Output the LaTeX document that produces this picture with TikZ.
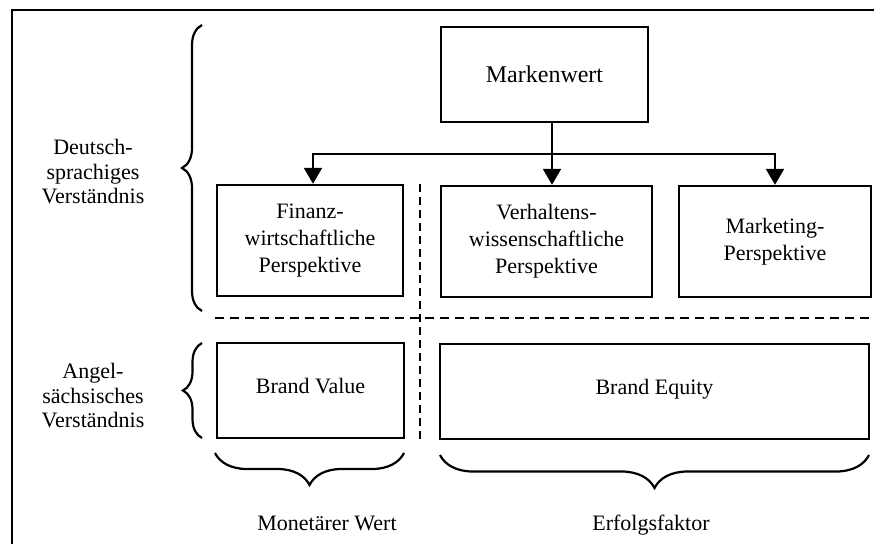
\documentclass[tikz,border=0pt]{standalone}
\usepackage{fontspec}
\setmainfont{Liberation Serif}
\usetikzlibrary{arrows.meta,decorations.pathreplacing}
\begin{document}
\begin{tikzpicture}[x=1pt,y=-1pt,
  box/.style={draw,line width=2.4pt,align=center,inner sep=0pt,
    font=\fontsize{22}{27}\selectfont},
  low/.style={text height=15pt,text depth=10pt},
  lbl/.style={align=center,inner sep=0pt,font=\fontsize{22}{24.5}\selectfont},
  arr/.style={line width=2.2pt,-{Triangle[width=18pt,length=16pt]}},
  sep/.style={line width=2.4pt,dash pattern=on 9pt off 6pt},
  vsep/.style={line width=2.4pt,dash pattern=on 8pt off 5pt},
  brc/.style={line width=2.2pt,decorate},
  frame/.style={line width=2.6pt}]
\useasboundingbox (0,0) rectangle (874,544);

% outer frame (left and top edges)
\coordinate (ftl) at (12,10);
\coordinate (fbl) at (12,544);
\coordinate (ftr) at (874,10);
\draw[frame] (fbl) -- (ftl) -- (ftr);

% boxes
\node[box,minimum width=207pt,minimum height=95pt,font=\fontsize{24}{28}\selectfont] (mw) at (544.5,74.5) {Markenwert};
\node[box,minimum width=186pt,minimum height=111pt] (fin) at (310,240.5) {Finanz-\\wirtschaftliche\\Perspektive};
\node[box,minimum width=211pt,minimum height=111pt] (ver) at (546.5,241.5) {Verhaltens-\\wissenschaftliche\\Perspektive};
\node[box,minimum width=192pt,minimum height=111pt] (mkt) at (775,241.5) {Marketing-\\Perspektive};
\node[box,low,minimum width=187pt,minimum height=95pt] (bv) at (310.5,390.5) {Brand Value};
\node[box,low,minimum width=429pt,minimum height=95pt] (be) at (654.5,391.5) {Brand Equity};

% connectors from Markenwert
\coordinate (j) at (552,154);
\coordinate (jl) at (313,154);
\coordinate (jr) at (775,154);
\draw[arr] (mw.south -| j) -- (ver.north -| j);
\draw[arr] (j) -- (jl) -- (fin.north -| jl);
\draw[arr] (j) -- (jr) -- (mkt.north -| jr);

% dashed separators
\coordinate (hs1) at (215,318);
\coordinate (hs2) at (872,318);
\coordinate (vs1) at (420,184);
\coordinate (vs2) at (420,440);
\draw[sep] (hs1) -- (hs2);
\draw[vsep] (vs1) -- (vs2);

% braces on the left
\coordinate (b1a) at (202,311);
\coordinate (b1b) at (202,25);
\coordinate (b2a) at (202,438);
\coordinate (b2b) at (202,343);
\draw[brc,decoration={brace,amplitude=20pt}] (b1a) -- (b1b);
\draw[brc,decoration={brace,amplitude=19pt}] (b2a) -- (b2b);

% braces below
\coordinate (b3a) at (404,453);
\coordinate (b3b) at (215,453);
\coordinate (b4a) at (869,455);
\coordinate (b4b) at (440,455);
\draw[brc,decoration={brace,amplitude=32pt}] (b3a) -- (b3b);
\draw[brc,decoration={brace,amplitude=33pt}] (b4a) -- (b4b);

% labels
\node[lbl] (de) at (93,172) {Deutsch-\\sprachiges\\Verständnis};
\node[lbl] (an) at (93,396) {Angel-\\sächsisches\\Verständnis};
\node[lbl] (mon) at (327,523) {Monetärer Wert};
\node[lbl] (erf) at (651,525) {Erfolgsfaktor};
\end{tikzpicture}
\end{document}
